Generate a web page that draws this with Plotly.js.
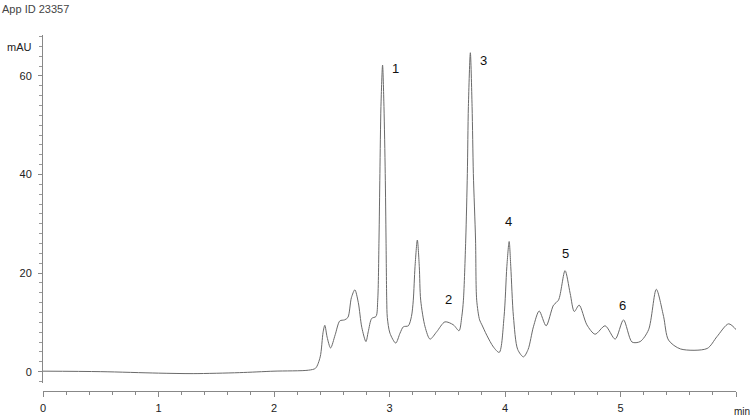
<!DOCTYPE html>
<html>
<head>
<meta charset="utf-8">
<script src="https://cdn.plot.ly/plotly-3.0.1.min.js"></script>
<style>html,body{margin:0;padding:0;background:#fff;}#chart{width:750px;height:417px;}</style>
</head>
<body>
<div id="chart"></div>
<script>
// Retention time (min)
const time = [0.00,0.50,1.00,1.30,1.70,2.00,2.30,2.36,2.40,2.425,2.44,2.46,2.49,2.53,2.57,2.61,2.64,2.67,2.70,2.73,2.76,2.796,2.816,2.846,2.883,2.898,2.909,2.917,2.926,2.94,2.952,2.963,2.97,2.976,2.981,3.004,3.054,3.091,3.12,3.163,3.19,3.206,3.221,3.241,3.258,3.27,3.308,3.351,3.409,3.48,3.553,3.602,3.626,3.64,3.66,3.674,3.683,3.70,3.715,3.726,3.745,3.755,3.78,3.80,3.842,3.90,3.95,3.992,4.016,4.036,4.05,4.073,4.11,4.16,4.20,4.246,4.296,4.356,4.42,4.463,4.52,4.564,4.60,4.642,4.709,4.78,4.867,4.954,5.026,5.10,5.17,5.243,5.31,5.373,5.416,5.52,5.75,5.835,5.936,6.01];
// Absorbance (mAU)
const absorbance = [0.1,0.0,-0.3,-0.4,-0.2,0.1,0.3,0.7,3.0,8.0,9.4,7.0,4.8,7.5,10.3,10.5,11.0,15.0,16.6,14.0,9.0,6.1,8.1,10.8,11.2,14.5,26.7,40.2,53.8,62.2,53.8,40.2,26.7,14.5,11.0,7.8,5.8,7.8,9.1,9.3,11.2,14.5,21.3,26.7,21.3,14.5,9.1,6.6,8.1,10.1,9.5,8.3,11.2,14.5,26.7,40.2,53.8,64.7,53.8,40.2,26.7,14.5,10.5,9.5,7.4,5.0,3.9,11.2,21.3,26.4,21.3,11.2,4.5,3.0,4.5,9.1,12.3,9.3,13.5,14.5,20.5,15.9,12.2,13.5,9.5,7.6,9.3,6.6,10.5,6.0,6.1,8.5,16.7,11.2,6.4,4.6,4.7,7.1,9.7,8.3];

// Peak labels
const peakLabels = ["1","2","3","4","5","6"];
const peakLabelX = [3.056,3.507,3.81,4.026,4.52,5.02];
const peakLabelY = [61.6,14.7,63.2,30.4,23.9,13.5];

// Axis ticks
const xTickVals = [0,1,2,3,4,5,6];
const xTickText = ["0","1","2","3","4","5",""];
const yTickVals = [0,20,40,60];

const font = "Liberation Sans, Arial, sans-serif";

const traces = [{
  x: time, y: absorbance, type: "scatter", mode: "lines",
  line: {color: "#6a6a6a", width: 1, shape: "spline", smoothing: 0.8},
  hoverinfo: "x+y"
}];

const annotations = peakLabels.map((t, i) => ({
  x: peakLabelX[i], y: peakLabelY[i], xref: "x", yref: "y",
  text: t, showarrow: false, font: {family: font, size: 13, color: "#111"}
}));
annotations.push({xref: "paper", yref: "paper", x: 0, y: 1, xanchor: "left", yanchor: "top",
  text: "App ID 23357", showarrow: false, font: {family: font, size: 11, color: "#444"}, 
  xshift: -43, yshift: 34});
annotations.push({xref: "paper", yref: "paper", x: 0, y: 1, xanchor: "right", yanchor: "middle",
  text: "mAU", showarrow: false, font: {family: font, size: 11, color: "#222"},
  xshift: -9, yshift: -12});
annotations.push({xref: "paper", yref: "paper", x: 1, y: 0, xanchor: "left", yanchor: "top",
  text: "min", showarrow: false, font: {family: font, size: 10, color: "#222"},
  xshift: -4, yshift: -13});

const layout = {
  width: 750, height: 417,
  margin: {l: 43.3, r: 14.3, t: 35, b: 26, pad: 0},
  paper_bgcolor: "#fff", plot_bgcolor: "#fff",
  showlegend: false,
  xaxis: {
    range: [0, 6], anchor: "free", position: 0,
    showgrid: false, zeroline: false, showline: true, linecolor: "#888", linewidth: 1,
    ticks: "outside", ticklen: 5, tickcolor: "#888", tickwidth: 1,
    tickvals: xTickVals, ticktext: xTickText,
    tickfont: {family: font, size: 11, color: "#222"},
    minor: {dtick: 0.2, ticks: "outside", ticklen: 2.5, tickcolor: "#888", tickwidth: 1},
    ticklabelstandoff: 2
  },
  yaxis: {
    range: [-2.3, 68.3], domain: [0.0225, 1],
    showgrid: false, zeroline: false, showline: true, linecolor: "#888", linewidth: 1,
    ticks: "outside", ticklen: 4, tickcolor: "#888", tickwidth: 1,
    tickvals: yTickVals,
    tickfont: {family: font, size: 11, color: "#222"},
    minor: {dtick: 2, ticks: "outside", ticklen: 3, tickcolor: "#999", tickwidth: 1},
    ticklabelstandoff: 4
  },
  annotations: annotations
};

Plotly.newPlot("chart", traces, layout, {displayModeBar: false, staticPlot: true});
</script>
</body>
</html>
